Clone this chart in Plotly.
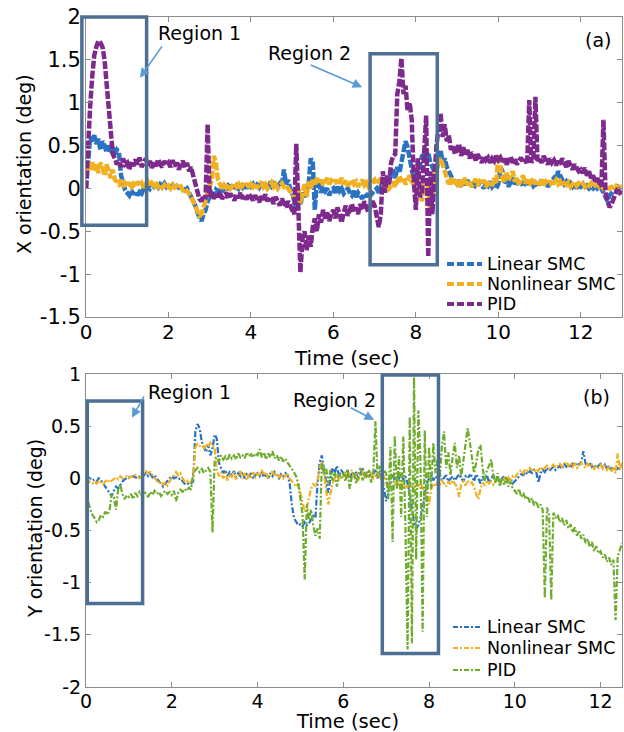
import numpy as np
import plotly.graph_objects as go

DT = 0.05  # sample spacing of the logged attitude data (s)

# ---- (a) X orientation (deg), one row per second ----
x_linear_smc = [
    0.00, 0.40, 0.60, 0.55, 0.62, 0.52, 0.58, 0.45, 0.55, 0.50, 0.42, 0.50, 0.45, 0.48, 0.40, 0.45, 0.42, 0.15, 0.05, -0.02,
    -0.05, -0.08, -0.02, -0.07, -0.03, -0.08, -0.04, -0.06, 0.00, -0.03, 0.03, 0.00, 0.05, 0.02, 0.04, 0.01, 0.05, 0.03, 0.06, 0.02,
    0.05, 0.02, 0.04, 0.00, 0.03, 0.01, 0.02, 0.00, -0.02, 0.00, -0.05, -0.08, -0.12, -0.20, -0.28, -0.35, -0.38, -0.30, -0.25, -0.15,
    -0.10, -0.05, -0.08, -0.02, -0.05, 0.00, -0.04, 0.02, -0.02, 0.03, 0.00, 0.04, -0.02, 0.03, 0.00, 0.05, 0.01, 0.04, 0.00, 0.05,
    0.02, 0.05, 0.00, 0.04, 0.01, 0.06, 0.02, 0.04, 0.00, 0.05, 0.02, 0.05, 0.00, 0.03, 0.06, 0.02, 0.22, 0.05, 0.10, 0.00,
    -0.05, -0.15, -0.25, -0.10, -0.20, -0.05, -0.10, -0.02, 0.05, 0.35, 0.30, -0.25, 0.10, 0.05, -0.05, 0.02, -0.03, 0.00, -0.08, -0.02,
    0.00, -0.05, 0.02, -0.03, 0.00, -0.06, -0.02, 0.00, -0.05, -0.08, -0.03, -0.10, -0.05, -0.08, -0.12, -0.06, -0.10, -0.04, -0.08, -0.05,
    -0.02, 0.00, -0.05, 0.02, 0.00, 0.05, 0.02, 0.10, 0.15, 0.22, 0.12, 0.25, 0.18, 0.30, 0.45, 0.55, 0.48, 0.35, 0.20, 0.10,
    0.05, 0.15, 0.30, 0.38, 0.40, 0.35, 0.42, 0.30, 0.25, 0.20, 0.15, 0.40, 0.45, 0.30, 0.35, 0.25, 0.20, 0.15, 0.10, 0.08,
    0.05, 0.10, 0.02, 0.08, 0.04, 0.10, 0.03, 0.07, 0.00, 0.06, 0.02, 0.08, 0.04, 0.00, 0.06, 0.03, 0.08, 0.02, 0.05, 0.00,
    0.05, 0.25, 0.20, 0.05, 0.10, 0.02, 0.08, 0.12, 0.05, 0.10, 0.03, 0.08, 0.02, 0.06, 0.10, 0.04, 0.08, 0.03, 0.06, 0.02,
    0.05, 0.10, 0.04, 0.08, 0.02, 0.06, 0.10, 0.12, 0.08, 0.20, 0.15, 0.10, 0.05, 0.08, 0.03, 0.06, 0.02, 0.05, 0.00, 0.04,
    0.02, 0.05, 0.00, 0.03, 0.00, 0.02, 0.00, 0.03, 0.00, 0.02, 0.00, -0.05, -0.12, -0.15, -0.08, -0.05, -0.02, 0.00, 0.02, 0.00,
    0.00,
]

x_nonlinear_smc = [
    0.15, 0.30, 0.22, 0.32, 0.20, 0.28, 0.18, 0.30, 0.25, 0.15, 0.28, 0.20, 0.12, 0.22, 0.10, 0.08, 0.05, 0.10, 0.02, 0.06,
    0.03, 0.07, 0.00, 0.05, 0.02, 0.08, 0.03, 0.06, 0.01, 0.05, 0.08, 0.02, 0.06, 0.03, 0.07, 0.02, 0.05, 0.01, 0.04, 0.00,
    0.03, 0.00, 0.04, 0.01, 0.03, 0.00, 0.02, -0.02, 0.00, -0.03, -0.06, -0.10, -0.15, -0.22, -0.28, -0.32, -0.30, -0.22, -0.15, -0.05,
    0.00, 0.10, 0.38, 0.30, 0.10, 0.05, 0.00, 0.04, 0.01, 0.05, 0.00, 0.03, 0.06, 0.02, 0.05, 0.00, 0.04, 0.02, 0.06, 0.01,
    0.05, 0.02, 0.06, 0.00, 0.04, 0.08, 0.02, 0.05, 0.00, 0.04, 0.07, 0.02, 0.05, 0.00, 0.03, 0.06, 0.02, 0.04, 0.00, -0.03,
    -0.05, -0.10, -0.15, 0.00, -0.18, -0.05, 0.05, -0.10, 0.08, 0.00, 0.10, 0.05, 0.12, 0.06, 0.10, 0.04, 0.08, 0.12, 0.05, 0.09,
    0.06, 0.10, 0.04, 0.08, 0.12, 0.05, 0.09, 0.03, 0.07, 0.10, 0.05, 0.08, 0.02, 0.06, 0.10, 0.04, 0.07, 0.02, 0.05, 0.08,
    0.10, 0.05, 0.08, 0.12, 0.06, 0.02, 0.05, 0.00, 0.03, 0.08, 0.02, 0.10, 0.15, 0.08, 0.12, 0.05, 0.10, 0.15, 0.08, 0.05,
    0.02, 0.08, -0.05, -0.15, 0.05, 0.10, 0.00, -0.30, -0.10, 0.15, 0.25, 0.30, 0.35, 0.28, 0.20, 0.10, 0.05, 0.12, 0.04, 0.08,
    0.05, 0.10, 0.02, 0.08, 0.12, 0.04, 0.09, 0.02, 0.07, 0.11, 0.03, 0.08, 0.05, 0.10, 0.02, 0.06, 0.09, 0.03, 0.12, 0.05,
    0.40, 0.25, 0.12, 0.08, 0.18, 0.10, 0.15, 0.20, 0.08, 0.12, 0.05, 0.10, 0.15, 0.06, 0.10, 0.04, 0.08, 0.12, 0.05, 0.09,
    0.06, 0.10, 0.04, 0.08, 0.05, 0.09, 0.03, 0.07, 0.10, 0.05, 0.08, 0.03, 0.06, 0.04, 0.07, 0.02, 0.05, 0.08, 0.03, 0.06,
    0.04, 0.06, 0.02, 0.05, 0.03, 0.06, 0.02, 0.04, 0.05, 0.02, 0.04, 0.00, 0.02, 0.03, 0.00, 0.02, 0.01, 0.03, 0.00, 0.02,
    0.02,
]

x_pid = [
    0.00, 0.55, 0.95, 1.30, 1.55, 1.65, 1.72, 1.70, 1.65, 1.50, 1.25, 0.95, 0.65, 0.40, 0.35, 0.28, 0.32, 0.25, 0.35, 0.28,
    0.30, 0.22, 0.32, 0.26, 0.34, 0.28, 0.36, 0.25, 0.30, 0.35, 0.27, 0.32, 0.24, 0.30, 0.26, 0.34, 0.28, 0.25, 0.32, 0.27,
    0.30, 0.25, 0.33, 0.26, 0.30, 0.22, 0.28, 0.32, 0.24, 0.30, 0.20, 0.25, 0.15, 0.05, -0.05, -0.12, -0.15, -0.08, -0.12, 0.75,
    -0.10, -0.05, -0.12, -0.06, -0.10, -0.04, -0.12, -0.08, -0.05, -0.12, -0.06, -0.10, -0.14, -0.07, -0.11, -0.05, -0.12, -0.08, -0.13, -0.06,
    -0.10, -0.14, -0.08, -0.12, -0.16, -0.09, -0.13, -0.07, -0.15, -0.10, -0.12, -0.18, -0.10, -0.15, -0.20, -0.12, -0.18, -0.22, -0.15, -0.20,
    -0.22, -0.30, 0.52, -0.20, -0.98, -0.60, -0.50, -0.72, -0.55, -0.68, -0.45, -0.35, -0.50, -0.30, -0.40, -0.25, -0.35, -0.28, -0.38, -0.30,
    -0.25, -0.35, -0.22, -0.30, -0.40, -0.28, -0.20, -0.32, -0.25, -0.18, -0.28, -0.22, -0.30, -0.18, -0.25, -0.15, -0.22, -0.28, -0.20, -0.15,
    -0.20, -0.35, -0.45, -0.30, 0.20, -0.05, 0.15, 0.05, 0.30, 0.38, 0.40, 1.10, 1.25, 1.52, 1.10, 1.20, 0.90, 1.00, 0.80, 0.10,
    -0.25, 0.35, -0.10, -0.05, 0.40, 0.85, -0.80, 0.20, -0.30, 0.15, 0.50, 0.70, 0.88, 0.60, 0.75, 0.55, 0.62, 0.45, 0.50, 0.40,
    0.45, 0.52, 0.38, 0.48, 0.40, 0.45, 0.35, 0.42, 0.38, 0.33, 0.40, 0.35, 0.30, 0.38, 0.33, 0.36, 0.30, 0.35, 0.32, 0.38,
    0.33, 0.36, 0.30, 0.35, 0.28, 0.33, 0.37, 0.30, 0.34, 0.28, 0.32, 0.36, 0.30, 0.34, 0.28, 1.03, 0.30, 0.35, 1.07, 0.32,
    0.35, 0.30, 0.38, 0.32, 0.28, 0.35, 0.30, 0.33, 0.27, 0.32, 0.28, 0.35, 0.30, 0.25, 0.32, 0.27, 0.22, 0.28, 0.24, 0.20,
    0.22, 0.18, 0.24, 0.15, 0.20, 0.12, 0.15, 0.08, 0.12, 0.05, 0.02, 0.80, -0.05, -0.15, -0.22, -0.18, -0.10, -0.05, 0.00, -0.05,
    -0.03,
]

# ---- (b) Y orientation (deg), one row per second ----
y_linear_smc = [
    0.02, 0.01, 0.00, -0.02, -0.01, -0.03, 0.00, -0.02, -0.05, -0.08, -0.10, -0.14, -0.17, -0.12, -0.08, -0.10, -0.06, -0.03, -0.01, 0.00,
    0.01, 0.00, 0.02, 0.01, 0.00, 0.02, 0.04, 0.03, 0.05, 0.02, 0.04, 0.01, 0.03, 0.00, -0.03, -0.06, -0.08, -0.05, -0.02, 0.00,
    0.02, 0.00, 0.01, -0.01, 0.00, -0.03, -0.05, -0.04, -0.06, -0.05, -0.03, 0.45, 0.52, 0.48, 0.35, 0.30, 0.25, 0.32, 0.22, 0.28,
    0.42, 0.38, 0.15, 0.10, 0.05, 0.08, 0.02, 0.06, 0.03, 0.07, 0.01, 0.05, 0.02, 0.06, 0.00, 0.04, 0.02, 0.05, 0.00, 0.03,
    0.05, 0.02, 0.06, 0.01, 0.04, 0.00, 0.05, 0.02, 0.06, 0.03, 0.00, 0.04, 0.02, 0.05, 0.03, -0.05, -0.25, -0.38, -0.42, -0.45,
    -0.44, -0.46, -0.42, -0.45, -0.43, -0.40, -0.36, -0.38, -0.05, 0.15, 0.22, 0.08, -0.05, -0.14, 0.00, 0.10, 0.05, 0.12, 0.02, 0.08,
    0.05, 0.02, 0.08, 0.00, 0.05, 0.02, 0.06, 0.00, 0.04, 0.10, 0.02, 0.06, 0.01, 0.05, 0.03, 0.08, 0.00, 0.04, 0.02, -0.10,
    -0.22, -0.15, 0.00, 0.03, -0.02, 0.02, 0.00, 0.05, -0.02, 0.02, -0.05, -0.15, -0.30, -0.42, -0.48, -0.45, -0.38, -0.30, -0.15, -0.05,
    0.00, 0.03, -0.02, 0.02, 0.00, 0.04, -0.02, 0.01, 0.03, -0.03, 0.00, 0.02, -0.02, 0.01, 0.04, 0.00, -0.03, 0.02, 0.00, 0.03,
    0.02, -0.03, 0.04, 0.00, -0.05, 0.02, -0.02, 0.03, -0.04, 0.00, 0.03, -0.02, 0.01, -0.06, 0.00, 0.02, -0.04, -0.01, 0.00, -0.05,
    -0.03, 0.00, 0.02, 0.04, 0.03, 0.06, 0.04, 0.07, 0.05, 0.08, 0.06, -0.04, 0.05, 0.08, 0.06, 0.10, 0.07, 0.09, 0.11, 0.08,
    0.10, 0.12, 0.09, 0.14, 0.11, 0.13, 0.10, 0.14, 0.12, 0.15, 0.13, 0.16, 0.26, 0.14, 0.12, 0.15, 0.11, 0.13, 0.10, 0.12,
    0.14, 0.10, 0.13, 0.09, 0.12, 0.08, 0.11, 0.07, 0.10, 0.09, 0.08,
]

y_nonlinear_smc = [
    0.00, -0.02, -0.04, -0.05, -0.03, -0.05, -0.02, -0.04, -0.06, -0.03, -0.01, -0.04, -0.02, 0.00, 0.01, -0.01, 0.02, 0.00, 0.01, 0.02,
    0.00, 0.02, 0.01, 0.03, 0.02, 0.00, 0.02, 0.05, 0.07, 0.05, 0.06, 0.03, 0.00, -0.03, -0.05, -0.03, -0.06, -0.04, -0.07, -0.03,
    0.00, 0.04, 0.06, 0.03, 0.05, 0.00, -0.03, -0.02, -0.05, -0.03, 0.00, 0.30, 0.33, 0.31, 0.32, 0.29, 0.33, 0.30, 0.34, 0.31,
    0.30, 0.08, 0.02, 0.06, 0.00, 0.05, -0.02, 0.04, 0.01, 0.06, -0.01, 0.03, 0.07, 0.00, 0.05, -0.02, 0.04, 0.01, 0.06, 0.00,
    0.05, 0.02, 0.08, 0.03, 0.06, 0.00, 0.04, 0.07, 0.02, 0.05, 0.01, 0.04, 0.00, 0.03, 0.05, 0.00, -0.03, -0.05, -0.08, -0.05,
    -0.15, -0.25, -0.32, -0.28, -0.20, -0.10, -0.05, -0.08, -0.02, 0.10, 0.16, 0.05, -0.12, -0.25, -0.15, -0.05, 0.00, 0.04, -0.02, 0.03,
    0.02, 0.06, 0.00, 0.04, 0.08, 0.02, 0.05, -0.02, 0.03, 0.07, 0.00, 0.04, 0.02, 0.06, -0.01, 0.03, 0.05, 0.00, 0.04, 0.02,
    -0.05, -0.08, -0.03, -0.10, -0.06, -0.02, -0.08, -0.04, -0.10, -0.06, -0.09, -0.04, -0.07, -0.11, -0.05, -0.08, -0.03, -0.10, -0.14, -0.20,
    -0.25, -0.10, -0.05, -0.08, -0.03, -0.06, -0.02, -0.05, -0.08, -0.03, -0.06, -0.02, -0.05, -0.08, -0.18, -0.06, -0.03, -0.07, -0.02, -0.05,
    -0.04, -0.08, -0.15, -0.20, -0.10, -0.04, -0.07, -0.02, -0.05, -0.03, -0.06, -0.02, 0.00, -0.04, -0.02, 0.00, -0.03, 0.01, -0.02, 0.02,
    0.00, 0.04, 0.06, 0.08, 0.05, 0.09, 0.07, 0.10, 0.08, 0.06, 0.09, 0.07, 0.11, 0.08, 0.10, 0.12, 0.09, 0.11, 0.13, 0.10,
    0.12, 0.14, 0.11, 0.13, 0.16, 0.12, 0.15, 0.11, 0.14, 0.10, 0.13, 0.15, 0.12, 0.10, 0.14, 0.11, 0.13, 0.09, 0.12, 0.10,
    0.13, 0.09, 0.12, 0.08, 0.11, 0.06, 0.10, 0.05, 0.24, 0.08, 0.15,
]

y_pid = [
    0.00, -0.22, -0.30, -0.35, -0.38, -0.42, -0.40, -0.35, -0.37, -0.32, -0.35, -0.30, -0.15, -0.18, -0.30, -0.10, -0.06, -0.15, -0.20, -0.16,
    -0.18, -0.15, -0.20, -0.14, -0.17, -0.13, -0.16, -0.12, -0.15, -0.18, -0.13, -0.16, -0.12, -0.15, -0.13, -0.17, -0.14, -0.12, -0.15, -0.13,
    -0.16, -0.12, -0.22, -0.14, -0.11, -0.13, -0.10, -0.12, -0.09, -0.11, 0.05, 0.08, 0.10, 0.06, 0.09, 0.05, 0.07, 0.10, 0.06, -0.52,
    0.18, 0.20, 0.16, 0.22, 0.18, 0.21, 0.17, 0.23, 0.19, 0.22, 0.18, 0.24, 0.20, 0.22, 0.19, 0.25, 0.21, 0.23, 0.20, 0.24,
    0.22, 0.28, 0.20, 0.25, 0.18, 0.24, 0.20, 0.26, 0.19, 0.22, 0.17, 0.21, 0.16, 0.19, 0.15, 0.12, 0.10, 0.06, 0.02, -0.05,
    -0.20, -0.35, -0.97, -0.25, -0.40, -0.30, -0.45, -0.55, -0.48, -0.58, 0.15, 0.05, 0.10, -0.05, 0.08, -0.02, 0.06, -0.08, 0.04, 0.00,
    0.05, -0.03, 0.08, -0.10, 0.02, 0.06, -0.05, 0.04, 0.10, -0.02, 0.06, 0.00, 0.08, -0.04, 0.05, 0.55, 0.00, 0.12, -0.05, 0.08,
    0.05, -0.20, 0.30, -0.61, 0.41, -0.10, 0.21, -0.37, 0.40, -0.50, -1.64, 0.59, -1.58, 0.97, -0.78, 0.65, 0.18, -1.47, 0.46, -0.37,
    0.30, -0.10, 0.34, 0.05, 0.18, 0.02, 0.30, 0.45, 0.10, 0.25, 0.03, 0.20, 0.34, 0.10, 0.22, 0.01, 0.15, 0.30, 0.48, 0.35,
    0.21, 0.05, 0.15, 0.28, 0.32, 0.10, -0.02, 0.08, 0.12, 0.18, 0.02, -0.05, 0.05, -0.08, 0.00, -0.06, 0.02, -0.08, -0.03, -0.10,
    -0.12, -0.15, -0.10, -0.18, -0.14, -0.20, -0.17, -0.23, -0.19, -0.26, -0.22, -0.28, -0.25, -0.30, -1.15, -0.28, -0.35, -1.17, -0.33, -0.38,
    -0.35, -0.42, -0.38, -0.45, -0.40, -0.48, -0.44, -0.52, -0.47, -0.55, -0.50, -0.58, -0.54, -0.62, -0.58, -0.66, -0.61, -0.70, -0.65, -0.72,
    -0.70, -0.76, -0.73, -0.80, -0.76, -0.83, -0.78, -1.36, -0.75, -0.68, -0.62,
]

series_names = ["Linear SMC", "Nonlinear SMC", "PID"]

# axis ticks
time_ticks = [0, 2, 4, 6, 8, 10, 12]
time_ticktext = ["0", "2", "4", "6", "8", "10", "12"]
xo_ticks = [-1.5, -1, -0.5, 0, 0.5, 1, 1.5, 2]
xo_ticktext = ["-1.5", "-1", "-0.5", "0", "0.5", "1", "1.5", "2"]
yo_ticks = [-2, -1.5, -1, -0.5, 0, 0.5, 1]
yo_ticktext = ["-2", "-1.5", "-1", "-0.5", "0", "0.5", "1"]

# highlighted regions: (t0, t1, v0, v1)
x_regions = [(-0.1, 1.47, -0.43, 2.0), (6.89, 8.52, -0.89, 1.57)]
y_regions = [(0.03, 1.32, -1.2, 0.74), (6.91, 8.22, -1.68, 0.99)]

FONT = "DejaVu Sans, Arial, sans-serif"
C_BLUE = "#2a72c2"
C_ORANGE = "#f0b020"
C_PURPLE = "#7d2a8c"
C_GREEN = "#6fac2e"
C_BOX = "#4c6f93"
C_ARROW = "#5b9bd5"

X_RANGE_A = [0, 13]
Y_RANGE_A = [-1.5, 2]
X_RANGE_B = [0, 12.5]
Y_RANGE_B = [-2, 1]
DOM_A = [0.5522, 1.0]
DOM_B = [0.0, 0.4672]

# figure geometry (px) used to place keys and titles in paper units
W, H = 624, 732
ML, MR, MT, MB = 86, 2, 17, 45
PW, PH = W - ML - MR, H - MT - MB


def px_to_paper(px, py):
    return (px - ML) / PW, (H - MB - py) / PH


fig = go.Figure()

dash_a = "8px,2px"
dash_b = "6px,2px,2px,2px"
key_dash_a = "7px,3px"
key_dash_b = "5px,2px,2px,2px"

for vals, color, name in zip([x_linear_smc, x_nonlinear_smc, x_pid],
                             [C_BLUE, C_ORANGE, C_PURPLE], series_names):
    t = np.arange(len(vals)) * DT
    fig.add_trace(go.Scatter(x=t, y=vals, mode="lines", name=name,
                             line=dict(color=color, width=4.5, dash=dash_a),
                             xaxis="x", yaxis="y", showlegend=False))

for vals, color, name in zip([y_linear_smc, y_nonlinear_smc, y_pid],
                             [C_BLUE, C_ORANGE, C_GREEN], series_names):
    t = np.arange(len(vals)) * DT
    fig.add_trace(go.Scatter(x=t, y=vals, mode="lines", name=name,
                             line=dict(color=color, width=2.2, dash=dash_b),
                             xaxis="x2", yaxis="y2", showlegend=False))


def to_paper(tv, vv, xr, yr, ydom):
    px = (tv - xr[0]) / (xr[1] - xr[0])
    py = ydom[0] + (vv - yr[0]) / (yr[1] - yr[0]) * (ydom[1] - ydom[0])
    return px, py


shapes = []
for regions, xr, yr, dom in [(x_regions, X_RANGE_A, Y_RANGE_A, DOM_A),
                             (y_regions, X_RANGE_B, Y_RANGE_B, DOM_B)]:
    for t0, t1, v0, v1 in regions:
        px0, py0 = to_paper(t0, v0, xr, yr, dom)
        px1, py1 = to_paper(t1, v1, xr, yr, dom)
        shapes.append(dict(type="rect", xref="paper", yref="paper",
                           x0=px0, x1=px1, y0=py0, y1=py1,
                           line=dict(color=C_BOX, width=3.5),
                           fillcolor="rgba(0,0,0,0)", layer="above"))

annotations = []
label_font = dict(family=FONT, size=19, color="black")
legend_font = dict(family=FONT, size=17.5, color="black")

# legend keys: (key x0, key x1, row y's, colours, dash, width)
legend_specs = [
    (447, 482, [264, 284, 304], [C_BLUE, C_ORANGE, C_PURPLE], key_dash_a, 4),
    (453, 482, [627, 648, 670], [C_BLUE, C_ORANGE, C_GREEN], key_dash_b, 2.2),
]
for kx0, kx1, rows, colors, kdash, kw in legend_specs:
    for ry, col, name in zip(rows, colors, series_names):
        ax0, ay = px_to_paper(kx0, ry)
        ax1, _ = px_to_paper(kx1, ry)
        shapes.append(dict(type="line", xref="paper", yref="paper",
                           x0=ax0, x1=ax1, y0=ay, y1=ay,
                           line=dict(color=col, width=kw, dash=kdash)))
        tx, _ = px_to_paper(485, ry)
        annotations.append(dict(text=name, x=tx, y=ay, xref="paper", yref="paper",
                                xanchor="left", yanchor="middle", showarrow=False,
                                font=legend_font))

# region labels
for text, xa, ya, xref, yref in [
    ("Region 1", 2.76, 1.81, "x", "y"),
    ("Region 2", 5.42, 1.58, "x", "y"),
    ("Region 1", 2.42, 0.83, "x2", "y2"),
    ("Region 2", 5.79, 0.75, "x2", "y2"),
]:
    annotations.append(dict(text=text, x=xa, y=ya, xref=xref, yref=yref,
                            showarrow=False, font=label_font))
# arrows pointing at the regions
for xa, ya, axp, ayp, xref, yref in [
    (1.31, 1.29, 23, -33, "x", "y"),
    (6.70, 1.18, -53, -23, "x", "y"),
    (1.07, 0.58, 13, -23, "x2", "y2"),
    (6.72, 0.56, -25, -13, "x2", "y2"),
]:
    annotations.append(dict(text="", x=xa, y=ya, xref=xref, yref=yref,
                            ax=axp, ay=ayp, showarrow=True, arrowhead=2,
                            arrowsize=1.2, arrowwidth=1.6, arrowcolor=C_ARROW))
# panel letters
annotations.append(dict(text="(a)", x=12.41, y=1.73, xref="x", yref="y",
                        showarrow=False, font=label_font))
annotations.append(dict(text="(b)", x=11.91, y=0.78, xref="x2", yref="y2",
                        showarrow=False, font=label_font))

# axis titles
for text, cx, cy, ang, size in [
    ("Time (sec)", 347, 358, 0, 20),
    ("Time (sec)", 347, 721, 0, 19.5),
    ("X orientation (deg)", 24, 164, -90, 19),
    ("Y orientation (deg)", 35, 529, -90, 19),
]:
    ax_, ay_ = px_to_paper(cx, cy)
    annotations.append(dict(text=text, x=ax_, y=ay_, xref="paper", yref="paper",
                            xanchor="center", yanchor="middle", textangle=ang,
                            showarrow=False, font=dict(family=FONT, size=size, color="black")))

axis_common = dict(showline=True, linecolor="#8c8c8c", linewidth=1,
                   mirror="ticks", ticks="inside", ticklen=5,
                   tickcolor="#8c8c8c", showgrid=False, zeroline=False)

fig.update_layout(
    width=W, height=H,
    margin=dict(l=ML, r=MR, t=MT, b=MB),
    paper_bgcolor="white", plot_bgcolor="white",
    showlegend=False,
    font=dict(family=FONT, color="black"),
    xaxis=dict(**axis_common, domain=[0, 1], anchor="y", range=X_RANGE_A,
               tickvals=time_ticks, ticktext=time_ticktext, ticklabelstandoff=-3,
               tickfont=dict(family=FONT, size=20, color="black")),
    yaxis=dict(**axis_common, domain=DOM_A, anchor="x", range=Y_RANGE_A,
               tickvals=xo_ticks, ticktext=xo_ticktext,
               tickfont=dict(family=FONT, size=21, color="black")),
    xaxis2=dict(**axis_common, domain=[0, 1], anchor="y2", range=X_RANGE_B,
                tickvals=time_ticks, ticktext=time_ticktext, ticklabelstandoff=-3,
                tickfont=dict(family=FONT, size=19, color="black")),
    yaxis2=dict(**axis_common, domain=DOM_B, anchor="x2", range=Y_RANGE_B,
                tickvals=yo_ticks, ticktext=yo_ticktext,
                tickfont=dict(family=FONT, size=19, color="black")),
    shapes=shapes,
    annotations=annotations,
)

fig.write_html("out.html")
